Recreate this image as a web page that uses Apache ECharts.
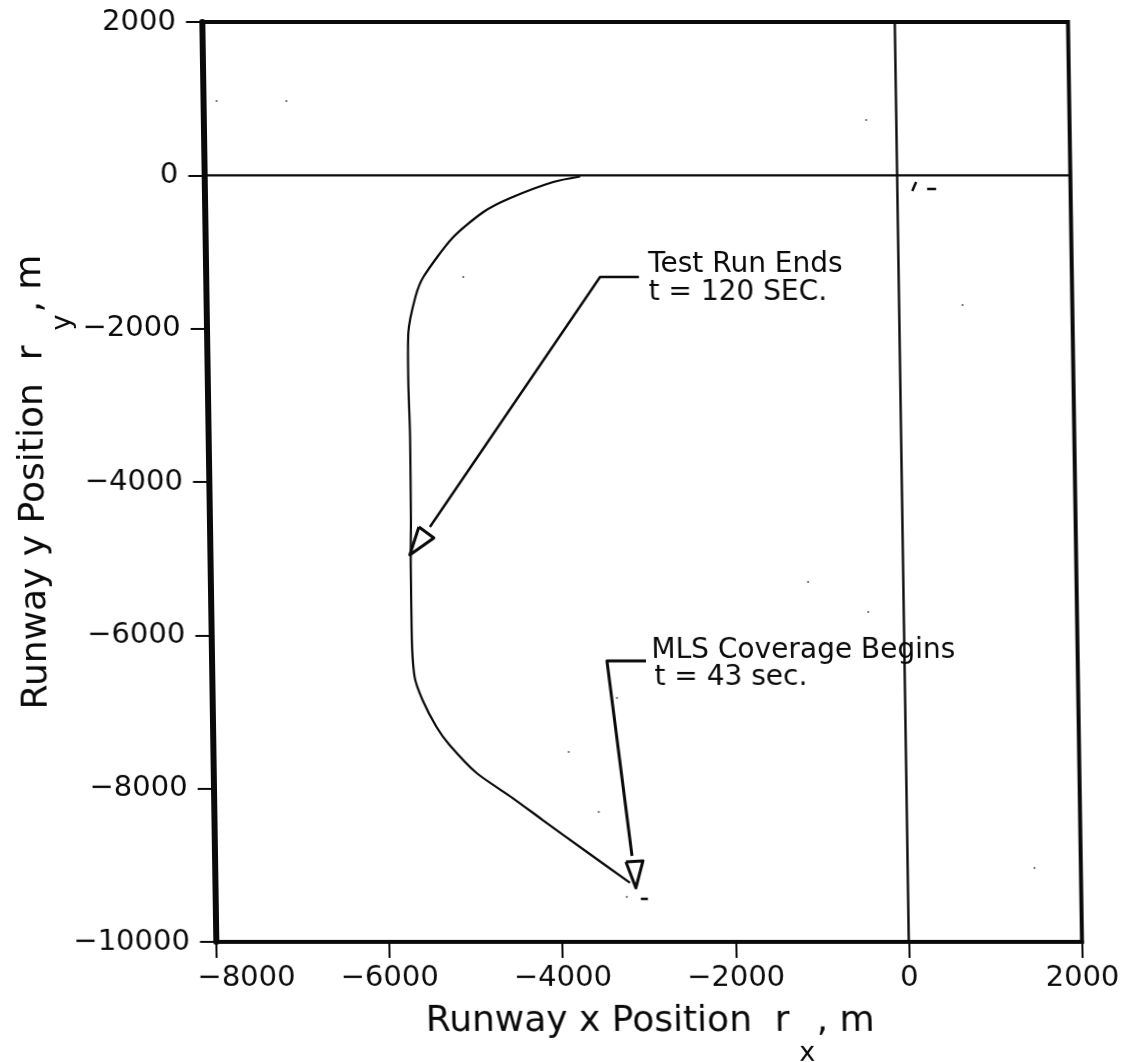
<!DOCTYPE html>
<html><head><meta charset="utf-8">
<style>html,body{margin:0;padding:0;background:#fff;overflow:hidden;width:1123px;height:1062px}
#c{width:1123px;height:1062px;transform-origin:0 0;transform:skewX(0.872deg)}</style>
<script src="https://cdn.jsdelivr.net/npm/echarts@6/dist/echarts.min.js"></script>
</head><body><div id="c"></div>
<script>
const xRange = [-8000, 2000];
const yRange = [-10000, 2000];
const tickStep = 2000;
const xAxisTitle = '{a|Runway x Position  r}{s|x}{a|, m}';
const yAxisTitle = '{a|Runway y Position  r}{s|y}{a|, m}';
const trajectory = [[-3660,-15],[-3972,-87],[-4470,-296],[-4783,-478],[-5146,-817],[-5488,-1326],[-5584,-1587],[-5672,-2057],[-5681,-2670],[-5670,-3413],[-5675,-4496],[-5685,-5109],[-5686,-5930],[-5660,-6543],[-5573,-6843],[-5416,-7196],[-5269,-7430],[-4962,-7796],[-4550,-8122],[-4207,-8409],[-3702,-8826],[-3209,-9230]];
const xZeroLine = [[0,-10000],[0,2000]];
const yZeroLine = [[-8000,0],[2000,0]];
const endLeader = [[-2999,-1326],[-3448,-1326],[-5457,-4587]];
const endMarker = [[-5584,-4587],[-5413,-4730],[-5694,-4952],[-5584,-4587]];
const startLeader = [[-2985,-6335],[-3436,-6335],[-3181,-8878]];
const startMarker = [[-3252,-8957],[-3055,-8943],[-3142,-9296],[-3252,-8957]];
const annotations = [
  {value:[-2890,-1160], text:'Test Run Ends'},
  {value:[-2890,-1535], text:'t = 120 SEC.'},
  {value:[-2920,-6195], text:'MLS Coverage Begins'},
  {value:[-2890,-6555], text:'t = 43 sec.'}
];
const specks = [[-7845,970],[-7040,970],[-5027,-1326],[-348,722],[732,-1691],[-1100,-5304],[-410,-5696],[-3327,-6817],[1464,-9035],[-3893,-7522],[-3557,-8304],[-3248,-9413]];
const smudges = [[218,-87],[172,-204],null,[344,-178],[448,-178],null,[-3086,-9439],[-3005,-9439]];

const ink = '#0a0a0a', font = 'DejaVu Sans';
const polyline = (data, width, smooth) => ({type:'line', data, symbol:'none', silent:true, clip:false,
  smooth:smooth||false, connectNulls:false, lineStyle:{color:ink, width, join:'round'}});
const fmt = v => String(v).replace('-', '\u2212');
const titleRich = extra => ({a:{fontFamily:font,fontSize:36,color:ink,lineHeight:44,verticalAlign:'top'},
              s:{fontFamily:font,fontSize:27,color:ink,padding:[36,2,0,3+extra],verticalAlign:'top'}});
const axisBase = {type:'value', interval:tickStep, splitLine:{show:false},
  axisTick:{length:16, lineStyle:{color:ink,width:2}},
  nameLocation:'middle', nameMoveOverlap:false};
const labelBase = {fontFamily:font,fontSize:29,color:ink,showMinLabel:true,showMaxLabel:true,hideOverlap:false};

echarts.init(document.getElementById('c'), null, {renderer:'canvas'}).setOption({
  animation:false, backgroundColor:'#fff',
  grid:{left:201.66, top:22, width:866, height:920, show:true, borderColor:ink, borderWidth:4,
        backgroundColor:'transparent', containLabel:false, outerBoundsMode:'none'},
  xAxis:Object.assign({}, axisBase, {min:xRange[0], max:xRange[1], name:xAxisTitle, nameGap:62,
    nameTextStyle:{rich:titleRich(6)},
    axisLine:{onZero:false, lineStyle:{color:ink,width:4}},
    axisLabel:Object.assign({}, labelBase, {margin:22,
      formatter:v => v === xRange[0] ? '{shift|' + fmt(v) + '}' : fmt(v),
      rich:{shift:{fontFamily:font,fontSize:29,color:ink,padding:[0,0,0,60]}}})}),
  yAxis:Object.assign({}, axisBase, {min:yRange[0], max:yRange[1], name:yAxisTitle, nameGap:130, nameRotate:90,
    nameTextStyle:{rich:titleRich(12)},
    axisLine:{onZero:false, lineStyle:{color:ink,width:6}},
    axisLabel:Object.assign({}, labelBase, {margin:26, formatter:fmt})}),
  series:[
    polyline(xZeroLine,2.4), polyline(yZeroLine,2.4),
    polyline(trajectory,2.2,0.25),
    polyline(endLeader,2.4), polyline(endMarker,3),
    polyline(startLeader,3), polyline(startMarker,3),
    polyline(smudges,2.5),
    {type:'scatter', data:specks, symbolSize:2, itemStyle:{color:'#555',opacity:1}, silent:true},
    {type:'scatter', silent:true, symbolSize:0, itemStyle:{opacity:1},
     data:annotations.map(a => ({value:a.value, label:{formatter:a.text}})),
     label:{show:true, position:'right', distance:0, fontFamily:font, fontSize:28, color:ink, opacity:1}}
  ]
});
</script></body></html>
